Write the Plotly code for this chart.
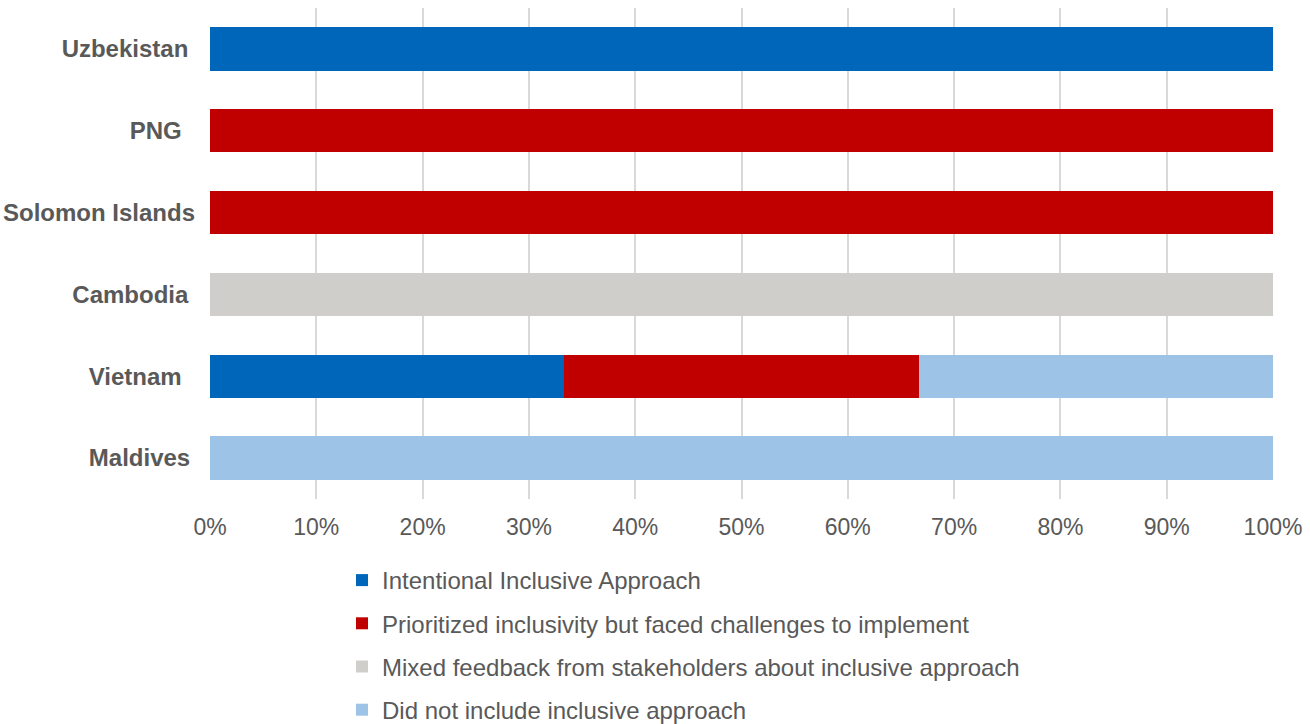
import plotly.graph_objects as go

countries = ["Uzbekistan", "PNG", "Solomon Islands", "Cambodia", "Vietnam", "Maldives"]
intentional = [1.0, 0, 0, 0, 1/3, 0]
prioritized = [0, 1.0, 1.0, 0, 1/3, 0]
mixed = [0, 0, 0, 1.0, 0, 0]
did_not = [0, 0, 0, 0, 1/3, 1.0]
# category labels as printed (with the trailing spacing seen in the original)
country_labels = ["Uzbekistan\u00a0", "PNG\u00a0\u00a0", "Solomon Islands",
                  "Cambodia\u00a0", "Vietnam\u00a0\u00a0", "Maldives\u2009"]

series_names = [
    "Intentional Inclusive Approach",
    "Prioritized inclusivity but faced challenges to implement",
    "Mixed feedback from stakeholders about inclusive approach",
    "Did not include inclusive approach",
]
series_values = [intentional, prioritized, mixed, did_not]
colors = ["#0066B9", "#C00000", "#D0CECA", "#9DC3E6"]
xticks = [i / 10 for i in range(11)]

fig = go.Figure()
for name, vals, col in zip(series_names, series_values, colors):
    fig.add_trace(go.Bar(
        y=countries, x=vals, name=name, orientation="h",
        marker=dict(color=col, line=dict(width=0)),
        legendgroup=name,
    ))

W, H = 1310, 724
grey = "#595959"
fig.update_layout(
    barmode="stack",
    bargap=0.47,
    width=W, height=H,
    margin=dict(l=210, r=37, t=8, b=225, autoexpand=False),
    plot_bgcolor="white", paper_bgcolor="white",
    font=dict(family="Liberation Sans, Arial, sans-serif", color=grey),
    xaxis=dict(
        range=[0, 1], tickvals=xticks, tickformat=".0%",
        showgrid=True, gridcolor="#D9D9D9", gridwidth=2,
        zeroline=False, showline=False,
        tickfont=dict(size=23, color=grey),
        ticklabelstandoff=12,
    ),
    yaxis=dict(
        autorange="reversed", showgrid=False, showline=False,
        tickvals=countries, ticktext=country_labels,
        tickfont=dict(size=24, color=grey, weight="bold"),
        ticklabelstandoff=14,
    ),
    legend=dict(
        orientation="v", traceorder="grouped", tracegroupgap=9,
        xref="container", yref="container",
        x=342/W, y=1 - 558/H, xanchor="left", yanchor="top",
        font=dict(size=24, color=grey),
        itemwidth=30,
    ),
    showlegend=True,
)

fig.write_html("out.html", config={"displayModeBar": False},
               post_script="document.body.style.margin='0';")
